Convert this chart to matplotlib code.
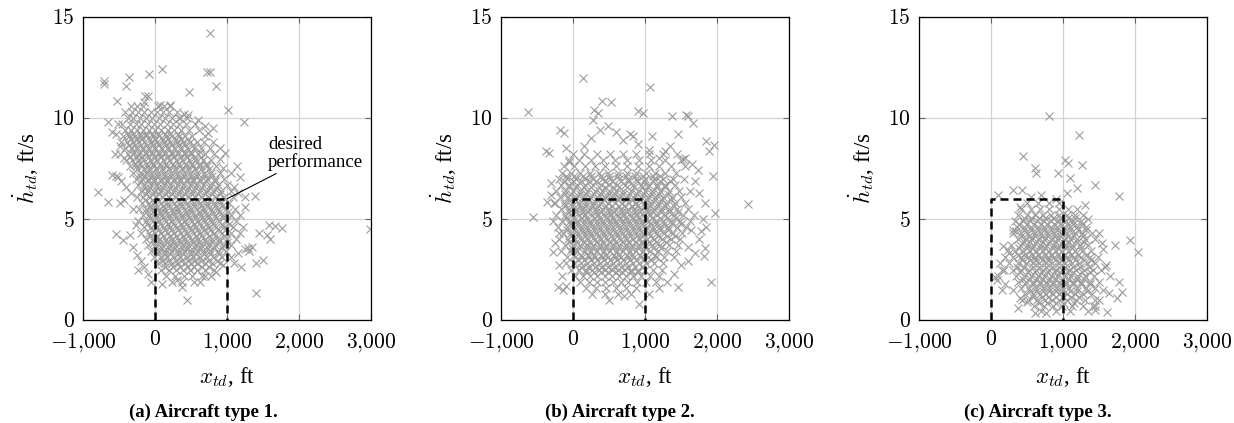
import matplotlib
matplotlib.use("Agg")
import matplotlib.pyplot as plt

plt.rcParams['mathtext.fontset'] = 'cm'
plt.rcParams['font.family'] = ['Liberation Serif', 'DejaVu Serif']

# ---------------- data ----------------
captions = ["(a) Aircraft type 1.", "(b) Aircraft type 2.", "(c) Aircraft type 3."]
x_ticks = [-1000, 0, 1000, 2000, 3000]
x_tick_labels = [r"$-1{,}000$", r"$0$", r"$1{,}000$", r"$2{,}000$", r"$3{,}000$"]
y_ticks = [0, 5, 10, 15]
y_tick_labels = [r"$0$", r"$5$", r"$10$", r"$15$"]

# desired performance box corners (x_td, hdot_td)
box_x = [0, 0, 1000, 1000]
box_y = [0, 6, 6, 0]

# type 1: dense core, one row per hdot level
core_1 = [
    (10.6, [-330, -250, -170, 40, 120, 210]),
    (10.3, [-420, -320, -240, -150, -60, 30, 110, 190, 300]),
    (10.0, [-380, -300, -210, -130, -40, 50, 140, 230, 330, 450]),
    (9.7, [-460, -350, -270, -190, -100, -20, 70, 160, 250, 340, 430, 560]),
    (9.4, [-410, -330, -250, -170, -90, 0, 90, 180, 270, 360, 470, 610]),
    (9.1, [-440, -360, -280, -200, -120, -30, 60, 150, 240, 330, 420, 520, 700]),
    (8.8, [-470, -390, -310, -230, -150, -60, 30, 120, 210, 300, 390, 480, 580, 680]),
    (8.5, [-420, -340, -260, -180, -100, -10, 80, 170, 260, 350, 440, 540, 640, 760]),
    (8.2, [-480, -380, -300, -220, -130, -40, 50, 140, 230, 320, 410, 500, 600, 700, 820]),
    (7.9, [-400, -320, -240, -160, -70, 20, 110, 200, 290, 380, 470, 560, 660, 780]),
    (7.6, [-350, -260, -180, -100, -10, 80, 170, 260, 350, 440, 530, 620, 720, 850]),
    (7.3, [-300, -210, -130, -50, 40, 130, 220, 310, 400, 490, 580, 680, 780, 900]),
    (7.0, [-260, -180, -100, -10, 80, 170, 260, 350, 440, 530, 620, 720, 830, 960]),
    (6.7, [-230, -150, -60, 30, 120, 210, 300, 390, 480, 570, 670, 770, 880, 1000]),
    (6.4, [-200, -110, -20, 70, 160, 250, 340, 430, 520, 610, 710, 810, 920, 1050]),
    (6.1, [-250, -160, -70, 20, 110, 200, 290, 380, 470, 560, 650, 750, 850, 960, 1080]),
    (5.8, [-180, -90, 0, 90, 180, 270, 360, 450, 540, 630, 720, 820, 920, 1030]),
    (5.5, [-220, -130, -40, 50, 140, 230, 320, 410, 500, 590, 680, 780, 880, 990, 1110]),
    (5.2, [-170, -80, 10, 100, 190, 280, 370, 460, 550, 640, 730, 830, 940, 1060]),
    (4.9, [-230, -120, -30, 60, 150, 240, 330, 420, 510, 600, 690, 790, 890, 1000, 1120]),
    (4.6, [-150, -60, 30, 120, 210, 300, 390, 480, 570, 660, 750, 850, 960, 1080]),
    (4.3, [-190, -90, 0, 90, 180, 270, 360, 450, 540, 630, 720, 820, 930, 1050, 1180]),
    (4.0, [-130, -30, 60, 150, 240, 330, 420, 510, 600, 690, 790, 890, 1000, 1120]),
    (3.7, [-100, 0, 100, 190, 280, 370, 460, 550, 640, 730, 830, 940, 1060]),
    (3.4, [-60, 40, 130, 220, 310, 400, 490, 580, 670, 770, 870, 990]),
    (3.1, [-20, 80, 170, 260, 350, 440, 530, 620, 720, 820, 930, 1050]),
    (2.8, [40, 140, 230, 320, 410, 500, 590, 690, 790, 900]),
    (2.5, [80, 190, 290, 390, 490, 590, 700, 820]),
    (2.2, [150, 280, 400, 520, 650, 780]),
    (1.9, [230, 380, 540]),
    # in-between rows of the densest part
    (9.23, [-380, -300, -205, -125, -35, 45, 140, 215, 315]),
    (8.96, [-335, -245, -175, -75, 5, 105, 185, 285, 365, 465]),
    (8.66, [-365, -275, -195, -115, -25, 55, 155, 235, 335, 415, 525]),
    (8.34, [-295, -215, -125, -45, 55, 135, 235, 315, 415, 505, 625]),
    (8.06, [-345, -255, -175, -85, 5, 85, 185, 265, 365, 445, 555, 645]),
    (7.74, [-275, -205, -105, -25, 75, 155, 255, 335, 435, 515, 625, 715]),
    (7.46, [-255, -155, -85, 15, 95, 195, 275, 375, 455, 555, 645, 755]),
    (7.14, [-205, -135, -35, 45, 145, 225, 325, 405, 505, 585, 695, 795]),
    (6.86, [-195, -95, -15, 85, 165, 265, 345, 445, 525, 625, 715, 835]),
    (6.54, [-145, -65, 35, 115, 215, 295, 395, 475, 575, 655, 765, 865]),
    (6.26, [-125, -25, 55, 155, 235, 335, 415, 515, 595, 695, 785, 905]),
    (5.94, [-135, -35, 45, 145, 225, 325, 405, 505, 585, 685, 775, 885]),
    (5.66, [-75, 5, 105, 185, 285, 365, 465, 545, 645, 725, 835, 935]),
    (5.34, [-125, -25, 65, 145, 245, 325, 425, 505, 605, 685, 795, 895, 1015]),
    (5.06, [-65, 15, 115, 195, 295, 375, 475, 555, 655, 735, 845, 945]),
    (4.74, [-105, -5, 75, 175, 255, 355, 435, 535, 615, 715, 805, 925, 1025]),
    (4.46, [-35, 45, 145, 225, 325, 405, 505, 585, 685, 765, 875, 975]),
    (4.14, [-75, 25, 105, 205, 285, 385, 465, 565, 645, 745, 835, 955]),
    (3.86, [-15, 65, 165, 245, 345, 425, 525, 605, 705, 785, 895, 995]),
    (3.54, [15, 95, 195, 275, 375, 455, 555, 635, 735, 825, 935]),
    (3.26, [35, 135, 215, 315, 395, 495, 575, 675, 765, 885]),
    (2.94, [95, 185, 285, 365, 465, 545, 645, 735, 855]),
    (2.64, [145, 255, 345, 455, 545, 655, 755]),
]
# type 1: scattered points
sparse_1_x = [763, 100, -86, -360, -703, -703, -406, 717, 763, 847, 471, -104, -522, 1014,
              1241, -652, -545, -790, -652, -545, -545, -443, -490, -434, -230, -49, 438,
              369, 1404, 2990, 1589, 1668, 1761, 1598, 1506, 1297, 1390, 1250, 1180, 1144,
              903, 977, 810, 740, 452, 346, 206, 67, -137,
              -600, -520, -480, -560, -430, -600, -520, -470, -400, -330, -300, -260, -350,
              -300, -250, -200, -150, -100, 100, 300, 620, 700, 850, 950, 1100, 1200, 1400,
              1150, 1250, 1300, 1350, 1220, 1180, 1250, 1150, 1100, 1050, 950, 1450, 1550,
              900, 800, 700, 600, 400, -150]
sparse_1_y = [14.2, 12.45, 12.2, 12.05, 11.7, 11.85, 11.6, 12.3, 12.3, 11.6, 11.3, 11.1, 10.85,
              10.4, 9.8, 9.8, 9.2, 6.35, 5.85, 7.15, 4.25, 3.95, 5.8, 5.95, 2.5, 1.9, 1.0,
              1.65, 1.35, 4.5, 4.7, 4.65, 4.55, 4.0, 2.95, 3.55, 6.15, 6.1, 7.1, 7.6,
              7.95, 8.25, 9.5, 9.25, 10.15, 10.0, 10.65, 10.65, 11.1,
              9.3, 9.7, 8.6, 8.2, 8.0, 7.2, 7.1, 6.9, 6.6, 6.3, 5.5, 4.7, 4.2,
              3.6, 3.2, 2.9, 2.6, 2.3, 1.8, 2.0, 1.9, 2.2, 2.4, 2.7, 2.8, 2.6, 2.8,
              3.3, 3.5, 3.4, 3.6, 4.6, 5.2, 5.6, 6.3, 6.6, 7.3, 7.5, 4.3, 4.2,
              8.5, 8.8, 9.6, 9.9, 10.2, 10.8]

# type 2
core_2 = [
    (8.2, [0, 150, 330, 520, 700, 880, 1060, 1250, 1450]),
    (7.9, [-60, 90, 250, 410, 580, 750, 920, 1090, 1280, 1500]),
    (7.6, [-120, 20, 160, 300, 450, 600, 750, 900, 1050, 1200, 1360, 1560]),
    (7.3, [-150, -30, 100, 230, 360, 490, 620, 750, 880, 1010, 1140, 1280, 1430]),
    (7.0, [-200, -80, 40, 160, 280, 400, 520, 640, 760, 880, 1000, 1120, 1250, 1390, 1540]),
    (6.7, [-160, -50, 60, 170, 280, 390, 500, 610, 720, 830, 940, 1050, 1160, 1280, 1410]),
    (6.4, [-230, -110, 0, 100, 200, 300, 400, 500, 600, 700, 800, 900, 1000, 1100, 1210, 1330, 1470, 1620]),
    (6.1, [-180, -70, 40, 140, 240, 340, 440, 540, 640, 740, 840, 940, 1040, 1140, 1250, 1370, 1500]),
    (5.8, [-250, -130, -20, 80, 180, 280, 380, 480, 580, 680, 780, 880, 980, 1080, 1180, 1290, 1410, 1560]),
    (5.5, [-170, -60, 40, 130, 220, 310, 400, 490, 580, 670, 760, 850, 940, 1030, 1120, 1220, 1330, 1450, 1600]),
    (5.2, [-230, -110, -10, 80, 170, 260, 350, 440, 530, 620, 710, 800, 890, 980, 1070, 1170, 1280, 1400, 1530, 1680]),
    (4.9, [-150, -40, 60, 150, 240, 330, 420, 510, 600, 690, 780, 870, 960, 1050, 1150, 1250, 1360, 1480, 1620]),
    (4.6, [-210, -90, 20, 110, 200, 290, 380, 470, 560, 650, 740, 830, 920, 1010, 1110, 1210, 1320, 1440, 1570]),
    (4.3, [-140, -30, 70, 160, 250, 340, 430, 520, 610, 700, 790, 880, 970, 1060, 1160, 1270, 1390, 1520]),
    (4.0, [-190, -70, 30, 120, 210, 300, 390, 480, 570, 660, 750, 840, 930, 1030, 1130, 1240, 1360, 1490]),
    (3.7, [-110, 0, 100, 190, 280, 370, 460, 550, 640, 730, 820, 910, 1000, 1100, 1210, 1330, 1460]),
    (3.4, [-160, -40, 60, 160, 250, 340, 430, 520, 610, 700, 790, 880, 970, 1070, 1180, 1300, 1430]),
    (3.1, [-80, 30, 130, 220, 310, 400, 490, 580, 670, 760, 850, 940, 1040, 1150, 1270, 1400]),
    (2.8, [-100, 10, 110, 200, 290, 380, 470, 560, 650, 740, 830, 920, 1020, 1130, 1250]),
    (2.5, [-30, 80, 180, 270, 360, 450, 540, 630, 720, 810, 900, 1000, 1110, 1230]),
    (2.2, [30, 140, 240, 340, 440, 540, 640, 740, 840, 950, 1070, 1200]),
    (1.9, [100, 220, 330, 440, 550, 660, 770, 890, 1010, 1150]),
    (1.6, [180, 320, 460, 600, 740, 880]),
    (1.3, [270, 450, 620, 800]),
    # in-between rows of the densest part
    (7.14, [-95, 15, 145, 255, 385, 495, 625, 735, 865, 975, 1105, 1215]),
    (6.86, [-125, -5, 105, 225, 325, 445, 545, 665, 765, 885, 985, 1105, 1215, 1345]),
    (6.56, [-55, 45, 155, 245, 355, 445, 555, 645, 755, 845, 955, 1045, 1165, 1275]),
    (6.24, [-115, -25, 95, 185, 295, 385, 495, 585, 695, 785, 895, 985, 1095, 1195, 1325]),
    (5.96, [-55, 25, 135, 225, 335, 425, 535, 625, 735, 825, 935, 1025, 1135, 1235, 1355]),
    (5.64, [-105, -15, 95, 175, 275, 355, 455, 535, 635, 715, 815, 895, 995, 1075, 1175, 1275, 1405]),
    (5.36, [-55, 35, 135, 215, 315, 395, 495, 575, 675, 755, 855, 935, 1035, 1115, 1225, 1335, 1465]),
    (5.04, [-95, 5, 105, 185, 285, 365, 465, 545, 645, 725, 825, 905, 1005, 1095, 1205, 1305, 1425]),
    (4.76, [-45, 55, 155, 235, 335, 415, 515, 595, 695, 775, 875, 955, 1065, 1155, 1265, 1375, 1505]),
    (4.44, [-85, 15, 115, 195, 295, 375, 475, 555, 655, 735, 835, 915, 1015, 1105, 1215, 1325]),
    (4.16, [-25, 65, 165, 245, 345, 425, 525, 605, 705, 785, 885, 965, 1075, 1175, 1305, 1415]),
    (3.84, [-55, 45, 145, 225, 325, 405, 505, 585, 685, 765, 865, 945, 1055, 1155, 1285]),
    (3.56, [-15, 85, 185, 265, 365, 445, 545, 625, 725, 805, 905, 995, 1115, 1225]),
    (3.24, [15, 105, 205, 285, 385, 465, 565, 645, 745, 825, 925, 1015, 1135]),
    (2.96, [65, 155, 255, 335, 435, 515, 615, 695, 795, 875, 985, 1085]),
    (2.64, [115, 205, 305, 385, 485, 565, 665, 745, 855, 955]),
    (2.36, [185, 285, 395, 485, 595, 685, 805, 905]),
]
sparse_2_x = [145, 1063, -629, -560, -374, -328, -360, -258, -175, -120, -282, -203, -143,
              2430, 1911, 1966, 1948, 1888, 1957, 1850, 1665, 1572, 1595, 1378, 1456, 900,
              979, 404, 530, 289, 344, 275, 483, 785, 831, 1095, 1827, 1850, 1827, 1818,
              1642, 1595, 910, 506, 715, 1049, 1456, 1781, 1735, 1526, 1271,
              -50, -100, 150, 250, 380, 600, 700, 900, 1050, 1200, 1350, 1550, 1650, 1700,
              1750, 1800, 1750, 1700, 1600, 1500, 1400, 1300, 1200, -200, -250, -200, -150,
              -100, -300, -280, -300]
sparse_2_y = [12.0, 11.55, 10.3, 5.1, 8.35, 8.25, 5.85, 5.8, 9.4, 9.25, 3.35, 1.65, 1.5,
              5.75, 1.9, 5.3, 7.15, 8.35, 8.65, 8.85, 9.75, 10.15, 10.1, 10.1, 9.2, 10.35,
              10.25, 10.85, 10.8, 10.4, 10.25, 9.9, 9.6, 9.2, 9.1, 9.1, 5.8, 4.6, 3.55, 3.15,
              4.45, 2.9, 0.8, 1.0, 1.2, 1.3, 1.65, 4.4, 7.45, 7.95, 8.35,
              7.8, 8.5, 8.6, 9.0, 9.4, 9.3, 8.9, 8.7, 8.4, 8.0, 8.6, 8.0, 7.7, 6.9,
              6.3, 5.0, 4.0, 3.3, 3.6, 2.7, 2.3, 1.9, 1.6, 4.3, 3.8, 2.7, 2.2,
              1.7, 6.2, 4.9, 6.8]

# type 3
core_3 = [
    (5.8, [500, 650, 800, 950]),
    (5.5, [420, 550, 680, 810, 940, 1070, 1200]),
    (5.2, [380, 500, 610, 720, 830, 940, 1050, 1160, 1280]),
    (4.9, [330, 440, 540, 640, 740, 840, 940, 1040, 1140, 1250]),
    (4.6, [360, 460, 560, 650, 740, 830, 920, 1010, 1100, 1200, 1320]),
    (4.3, [310, 420, 520, 610, 700, 790, 880, 970, 1060, 1160, 1270, 1400]),
    (4.0, [370, 470, 560, 650, 740, 830, 920, 1010, 1100, 1200, 1310, 1440]),
    (3.7, [280, 400, 500, 590, 680, 770, 860, 950, 1040, 1130, 1230, 1350]),
    (3.4, [330, 440, 540, 630, 720, 810, 900, 990, 1080, 1170, 1270, 1390]),
    (3.1, [200, 310, 420, 520, 610, 700, 790, 880, 970, 1060, 1150, 1250, 1370, 1490]),
    (2.8, [120, 250, 370, 480, 580, 670, 760, 850, 940, 1030, 1120, 1220, 1330, 1450]),
    (2.5, [180, 300, 420, 530, 630, 720, 810, 900, 990, 1080, 1180, 1290, 1410, 1530]),
    (2.2, [350, 460, 560, 650, 740, 830, 920, 1010, 1100, 1200, 1310, 1430]),
    (1.9, [380, 490, 590, 680, 770, 860, 950, 1040, 1140, 1250, 1370, 1500]),
    (1.6, [420, 530, 630, 720, 810, 900, 990, 1090, 1200, 1320, 1450]),
    (1.3, [470, 580, 680, 770, 860, 950, 1050, 1160, 1280, 1400]),
    (1.0, [520, 640, 750, 850, 950, 1060, 1180, 1310, 1440]),
    (0.7, [600, 730, 860, 990, 1130, 1280, 1420]),
    (0.45, [700, 900, 1100, 1350]),
    # in-between rows of the densest part
    (5.04, [455, 555, 665, 755, 865, 955, 1065, 1165]),
    (4.76, [395, 505, 595, 695, 775, 875, 955, 1055, 1145, 1265]),
    (4.44, [465, 555, 655, 735, 835, 915, 1015, 1095, 1205, 1325]),
    (4.16, [415, 525, 605, 705, 785, 885, 965, 1065, 1155, 1275]),
    (3.84, [455, 545, 645, 725, 825, 905, 1005, 1085, 1195, 1295]),
    (3.56, [385, 495, 575, 675, 755, 855, 935, 1035, 1125, 1245]),
    (3.24, [375, 465, 575, 655, 755, 835, 935, 1015, 1115, 1205, 1325]),
    (2.96, [425, 535, 615, 715, 795, 895, 975, 1075, 1165, 1285, 1395]),
    (2.64, [355, 465, 585, 665, 765, 845, 945, 1025, 1135, 1235, 1365]),
    (2.36, [405, 515, 605, 705, 785, 885, 965, 1065, 1145, 1265, 1375]),
    (2.04, [445, 535, 645, 725, 825, 905, 1005, 1085, 1195, 1295]),
    (1.76, [475, 585, 675, 775, 855, 955, 1035, 1145, 1245, 1375]),
    (1.44, [535, 625, 725, 805, 905, 985, 1095, 1195, 1335]),
    (1.16, [585, 705, 795, 905, 995, 1115, 1225]),
    (0.86, [665, 775, 905, 1015, 1155]),
]
sparse_3_x = [808, 1216, 441, 1262, 613, 622, 1030, 1076, 1447, 1772, 312, 428, 103, 937,
              1100, 1192, 1934, 2041, 1726, 1609, 1772, 1818, 1749, 1633, 613, 761, 381,
              1447, 173, 242, 80, 150, 57, 312, 428, 1586, 1540,
              400, 350, 250, 150, 100, 200, 300, 400, 500, 1500, 1550, 1600, 1650, 1550,
              1500, 1450, 1050, 900, 700, 550, 1300, 1350]
sparse_3_y = [10.08, 9.17, 8.13, 7.69, 7.52, 7.27, 7.93, 7.77, 6.69, 6.12, 6.45, 6.45, 6.2,
              7.27, 7.02, 6.53, 3.97, 3.36, 3.72, 0.41, 1.9, 1.4, 1.07, 1.32, 0.36, 0.33,
              0.58, 0.5, 3.64, 3.47, 1.98, 1.49, 2.15, 4.46, 0.99, 2.64, 3.8,
              5.6, 4.4, 3.3, 2.5, 2.2, 1.8, 1.5, 1.1, 0.9, 4.3, 3.5, 2.7, 2.2, 1.5,
              1.0, 0.7, 6.3, 6.0, 6.2, 6.1, 5.7, 5.0]

cores = [core_1, core_2, core_3]
sparse_x = [sparse_1_x, sparse_2_x, sparse_3_x]
sparse_y = [sparse_1_y, sparse_2_y, sparse_3_y]


def flatten(rows):
    xs, ys = [], []
    for y, row in rows:
        for x in row:
            xs.append(x)
            ys.append(y)
    return xs, ys


fig = plt.figure(figsize=(12.34, 4.23), dpi=100)
lefts = [83, 501, 919]
cap_x = [203, 620, 1038]
for i in range(3):
    ax = fig.add_axes([lefts[i] / 1234, 103 / 423, 288 / 1234, 303 / 423])
    cx, cy = flatten(cores[i])
    xs = cx + sparse_x[i]
    ys = cy + sparse_y[i]
    ax.plot(xs, ys, 'x', color='#9c9c9c', markersize=6, markeredgewidth=0.8,
            zorder=2, clip_on=True)
    ax.plot(box_x, box_y, '--', color='black', linewidth=1.8, dashes=(3.2, 2),
            zorder=4, clip_on=False)
    ax.set_xlim(-1000, 3000)
    ax.set_ylim(0, 15)
    ax.set_xticks(x_ticks)
    ax.set_xticklabels(x_tick_labels)
    ax.set_yticks(y_ticks)
    ax.set_yticklabels(y_tick_labels)
    ax.grid(True, color='#d3d3d3', linewidth=0.9, zorder=0)
    ax.set_axisbelow(True)
    ax.tick_params(direction='in', top=True, right=True, length=4, width=0.8,
                   color='#666666', labelsize=15.5)
    ax.tick_params(axis='x', pad=8)
    ax.tick_params(axis='y', pad=6)
    for s in ax.spines.values():
        s.set_linewidth(0.9)
    ax.set_xlabel(r"$x_{td}$, ft", fontsize=16.5, labelpad=8)
    ax.set_ylabel(r"$\dot{h}_{td}$, ft/s", fontsize=16.5, labelpad=8)
    fig.text(cap_x[i] / 1234, 1 - 412 / 423, captions[i], ha='center', va='center',
             fontsize=13.5, fontweight='bold', family=['Liberation Serif'])
    if i == 0:
        ax.annotate("desired\nperformance", xy=(1000, 6), xytext=(1570, 8.25),
                    ha='left', va='center', fontsize=13.5, linespacing=1.0,
                    arrowprops=dict(arrowstyle='-', color='black', linewidth=0.8,
                                    shrinkA=0, shrinkB=0))

fig.savefig("out.png", dpi=100)
